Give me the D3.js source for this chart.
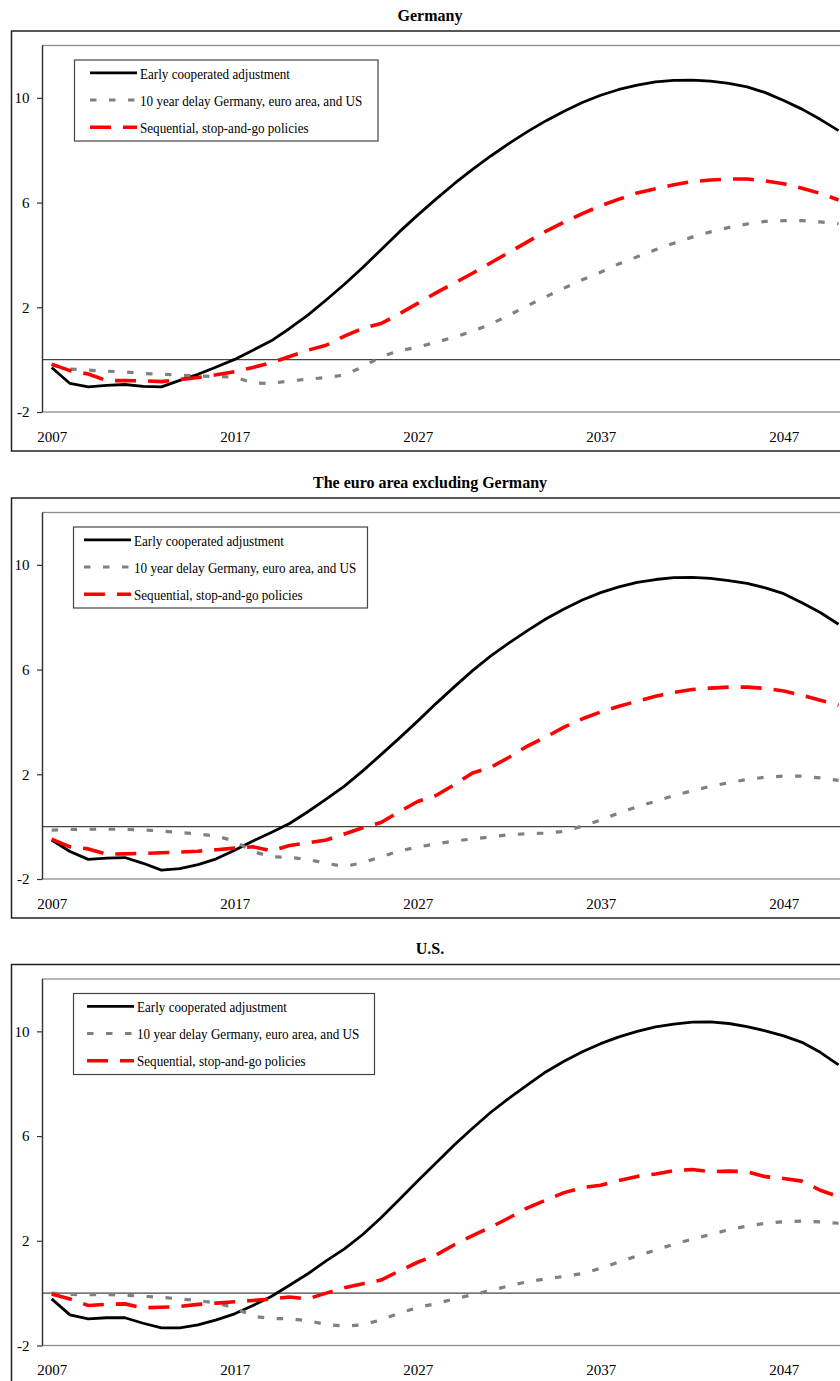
<!DOCTYPE html>
<html><head><meta charset="utf-8">
<script src="https://cdn.jsdelivr.net/npm/d3@7/dist/d3.min.js"></script>
<style>body{margin:0;background:#fff}svg{display:block}</style>
</head><body>
<svg id="c" width="840" height="1381"></svg>
<script>
// ---------- data ----------
const years = [2007,2008,2009,2010,2011,2012,2013,2014,2015,2016,2017,2018,2019,2020,2021,2022,2023,2024,2025,2026,2027,2028,2029,2030,2031,2032,2033,2034,2035,2036,2037,2038,2039,2040,2041,2042,2043,2044,2045,2046,2047,2048,2049,2050];
const yTicks = [-2, 2, 6, 10];
const xTickLabels = [2007, 2017, 2027, 2037, 2047];
const panelTitles = ["Germany", "The euro area excluding Germany", "U.S."];
const seriesNames = ["Early cooperated adjustment", "10 year delay Germany, euro area, and US", "Sequential, stop-and-go policies"];

const germanyEarly = [-0.30,-0.91,-1.04,-0.98,-0.95,-1.02,-1.04,-0.79,-0.56,-0.28,0.01,0.36,0.72,1.19,1.70,2.28,2.88,3.52,4.20,4.88,5.52,6.13,6.72,7.27,7.78,8.26,8.71,9.12,9.49,9.82,10.10,10.32,10.49,10.61,10.67,10.68,10.64,10.55,10.42,10.20,9.90,9.57,9.18,8.75];
const germanyDelay = [-0.20,-0.36,-0.40,-0.44,-0.47,-0.53,-0.56,-0.59,-0.63,-0.64,-0.67,-0.89,-0.91,-0.81,-0.75,-0.68,-0.59,-0.27,0.11,0.34,0.48,0.66,0.86,1.08,1.36,1.70,2.06,2.40,2.73,3.05,3.34,3.66,3.93,4.20,4.45,4.68,4.88,5.05,5.18,5.28,5.31,5.31,5.26,5.19];
const germanySeq = [-0.17,-0.42,-0.55,-0.80,-0.80,-0.81,-0.84,-0.76,-0.68,-0.58,-0.46,-0.30,-0.12,0.12,0.36,0.55,0.90,1.20,1.38,1.75,2.15,2.55,2.92,3.30,3.70,4.10,4.50,4.90,5.25,5.58,5.88,6.13,6.37,6.53,6.68,6.80,6.86,6.90,6.90,6.83,6.72,6.55,6.35,6.10];

const euroEarly = [-0.51,-0.95,-1.25,-1.20,-1.18,-1.40,-1.66,-1.60,-1.45,-1.23,-0.90,-0.55,-0.22,0.12,0.57,1.05,1.55,2.13,2.75,3.38,4.03,4.70,5.34,5.96,6.52,7.02,7.49,7.93,8.31,8.66,8.94,9.16,9.33,9.44,9.51,9.52,9.48,9.40,9.29,9.12,8.90,8.55,8.18,7.73];
const euroDelay = [-0.13,-0.11,-0.10,-0.10,-0.10,-0.12,-0.17,-0.22,-0.28,-0.36,-0.55,-0.95,-1.15,-1.17,-1.25,-1.40,-1.52,-1.38,-1.15,-0.93,-0.78,-0.66,-0.55,-0.47,-0.39,-0.31,-0.27,-0.25,-0.18,0.02,0.25,0.52,0.76,0.97,1.19,1.37,1.54,1.68,1.80,1.89,1.93,1.93,1.86,1.77];
const euroSeq = [-0.48,-0.77,-0.85,-1.05,-1.04,-1.02,-1.00,-0.97,-0.94,-0.88,-0.82,-0.77,-0.92,-0.72,-0.62,-0.51,-0.28,-0.04,0.16,0.57,0.96,1.19,1.60,2.05,2.27,2.65,3.08,3.42,3.80,4.12,4.38,4.60,4.79,4.98,5.13,5.24,5.29,5.33,5.33,5.28,5.18,5.02,4.83,4.64];

const usEarly = [-0.22,-0.83,-0.98,-0.94,-0.94,-1.15,-1.33,-1.33,-1.21,-1.02,-0.79,-0.47,-0.13,0.30,0.74,1.23,1.69,2.24,2.88,3.58,4.28,4.97,5.66,6.30,6.91,7.45,7.96,8.45,8.86,9.22,9.53,9.79,10.00,10.17,10.28,10.35,10.36,10.30,10.18,10.02,9.83,9.58,9.20,8.72];
const usDelay = [0.00,-0.05,-0.06,-0.06,-0.08,-0.12,-0.16,-0.22,-0.28,-0.38,-0.56,-0.88,-0.97,-0.98,-1.05,-1.20,-1.26,-1.21,-1.02,-0.76,-0.55,-0.40,-0.22,-0.06,0.10,0.28,0.44,0.54,0.64,0.75,0.95,1.19,1.42,1.65,1.87,2.06,2.24,2.42,2.56,2.67,2.73,2.75,2.72,2.67];
const usSeq = [-0.03,-0.22,-0.47,-0.43,-0.41,-0.56,-0.54,-0.51,-0.43,-0.38,-0.33,-0.28,-0.22,-0.15,-0.22,0.00,0.21,0.36,0.50,0.85,1.18,1.45,1.85,2.20,2.52,2.88,3.26,3.55,3.84,4.03,4.12,4.30,4.46,4.55,4.68,4.72,4.64,4.66,4.64,4.45,4.38,4.28,3.93,3.68];

const panelSeries = [
  [germanyEarly, germanyDelay, germanySeq],
  [euroEarly, euroDelay, euroSeq],
  [usEarly, usDelay, usSeq]
];

// ---------- styles ----------
const seriesStyle = [
  {color:"#000000", width:2.8, dash:null},
  {color:"#808080", width:3.2, dash:"6.5,12.5"},
  {color:"#ff0000", width:3.6, dash:"21,12"}
];
const font = "'Liberation Serif','Times New Roman',Times,serif";
const frameTops = [31, 498, 964.5];
const legendPos = [
  {box:74, w:303.5, sample:90},
  {box:73, w:294, sample:84},
  {box:73, w:301, sample:87}
];

const svg = d3.select("#c");
const x = d3.scaleLinear().domain([2006.5, 2050.5]).range([42.5, 847.7]);

panelTitles.forEach((title, i) => {
  const top = frameTops[i];
  const g = svg.append("g");
  const pt = top + 14.5, pb = pt + 366.5;
  const y = d3.scaleLinear().domain([-2, 12]).range([pb, pt]);

  g.append("text").attr("x", 430).attr("y", top - 10.5)
    .attr("text-anchor", "middle").attr("font-family", font)
    .attr("font-weight", "bold").attr("font-size", 16).text(title);

  g.append("rect").attr("x", 11.5).attr("y", top).attr("width", 860).attr("height", 420)
    .attr("fill", "none").attr("stroke", "#222").attr("stroke-width", 1.5);

  g.append("rect").attr("x", x.range()[0]).attr("y", pt)
    .attr("width", x.range()[1] - x.range()[0]).attr("height", pb - pt)
    .attr("fill", "none").attr("stroke", "#8c8c8c").attr("stroke-width", 1.3);

  g.append("line").attr("x1", x.range()[0]).attr("x2", x.range()[1])
    .attr("y1", y(0)).attr("y2", y(0)).attr("stroke", "#444").attr("stroke-width", 1.2);

  // y axis
  const ya = g.append("g").attr("transform", `translate(${x.range()[0]},0)`)
    .call(d3.axisLeft(y).tickValues(yTicks).tickSize(5.5).tickPadding(7.5).tickFormat(d => String(d)));
  ya.select(".domain").attr("stroke", "#333").attr("stroke-width", 1.3).attr("d", `M0,${pt}V${pb}`);
  ya.selectAll(".tick line").attr("stroke", "#333").attr("stroke-width", 1.2);
  ya.selectAll("text").attr("font-family", font).attr("font-size", 15).attr("fill", "#000");

  // x axis labels
  const xa = g.append("g").attr("transform", `translate(0,${pb})`)
    .call(d3.axisBottom(x).tickValues(xTickLabels).tickSize(0).tickPadding(19.3).tickFormat(d => String(d)));
  xa.select(".domain").remove();
  xa.selectAll("text").attr("font-family", font).attr("font-size", 15).attr("fill", "#000");

  // lines
  const line = d3.line().x((d, k) => x(years[k])).y(d => y(d));
  panelSeries[i].forEach((vals, s) => {
    const st = seriesStyle[s];
    g.append("path").datum(vals).attr("d", line)
      .attr("fill", "none").attr("stroke", st.color).attr("stroke-width", st.width)
      .attr("stroke-linejoin", "round")
      .attr("stroke-dasharray", st.dash);
  });

  // legend
  const lp = legendPos[i];
  const lg = g.append("g");
  lg.append("rect").attr("x", lp.box + 0.5).attr("y", top + 29).attr("width", lp.w).attr("height", 81)
    .attr("fill", "#fff").attr("stroke", "#444").attr("stroke-width", 1.2);
  seriesNames.forEach((name, s) => {
    const st = seriesStyle[s];
    const by = top + 47.5 + 27.2 * s;
    lg.append("line").attr("x1", lp.sample).attr("x2", lp.sample + 47)
      .attr("y1", by - 5.7).attr("y2", by - 5.7)
      .attr("stroke", st.color).attr("stroke-width", st.width).attr("stroke-dasharray", st.dash);
    lg.append("text").attr("transform", `translate(${lp.sample + 50},${by}) scale(0.875,1)`)
      .attr("font-family", font).attr("font-size", 15).text(name);
  });
});
</script>
</body></html>
